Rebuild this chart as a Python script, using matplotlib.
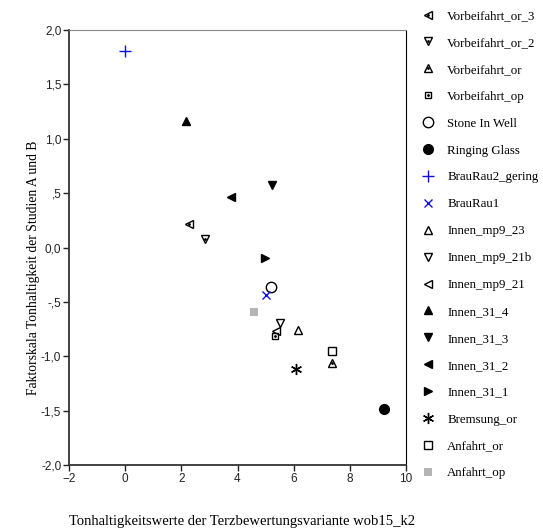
import numpy as np
import matplotlib.pyplot as plt

# Daten
namen = ["Vorbeifahrt_or_3", "Vorbeifahrt_or_2", "Vorbeifahrt_or", "Vorbeifahrt_op",
         "Stone In Well", "Ringing Glass", "BrauRau2_gering", "BrauRau1",
         "Innen_mp9_23", "Innen_mp9_21b", "Innen_mp9_21", "Innen_31_4",
         "Innen_31_3", "Innen_31_2", "Innen_31_1", "Bremsung_or",
         "Anfahrt_or", "Anfahrt_op"]
wob15_k2 = [2.29, 2.85, 7.38, 5.34, 5.19, 9.2, 0.0, 5.02, 6.14, 5.50, 5.38,
            2.17, 5.23, 3.77, 4.98, 6.09, 7.38, 4.57]
faktor = [0.22, 0.08, -1.065, -0.81, -0.36, -1.485, 1.81, -0.44, -0.76, -0.69,
          -0.77, 1.16, 0.575, 0.46, -0.10, -1.12, -0.95, -0.59]
xticks = [-2, 0, 2, 4, 6, 8, 10]
yticks = [2.0, 1.5, 1.0, 0.5, 0.0, -0.5, -1.0, -1.5, -2.0]
ytick_labels = ["2,0", "1,5", "1,0", ",5", "0,0", "-,5", "-1,0", "-1,5", "-2,0"]

# Stil je Punkt: (marker, groesse, gefuellt, farbe, punkt_innen)
stile = [
    ("<", 6, False, "black", True),
    ("v", 6, False, "black", True),
    ("^", 6, False, "black", True),
    ("s", 5, False, "black", True),
    ("o", 7.5, False, "black", False),
    ("o", 7, True, "black", False),
    ("+", 8, False, "#1010e0", False),
    ("x", 6, False, "#1010e0", False),
    ("^", 6, False, "black", False),
    ("v", 6, False, "black", False),
    ("<", 6, False, "black", False),
    ("^", 6, True, "black", False),
    ("v", 6, True, "black", False),
    ("<", 6, True, "black", False),
    (">", 6, True, "black", False),
    ((6, 2, 0), 8, False, "black", False),
    ("s", 6, False, "black", False),
    ("s", 6, True, "#b4b4b4", False),
]

fig = plt.figure(figsize=(5.43, 5.32), dpi=100)
ax = fig.add_axes([69/543, 1-465/532, 337/543, 435/532])

handles = []
for xi, yi, (m, ms, filled, col, dot) in zip(wob15_k2, faktor, stile):
    linien = m in ("+", "x") or isinstance(m, tuple)
    fc = col if (filled or linien) else "none"
    mew = 0 if (filled and col != "black") else 1.0
    h, = ax.plot([xi], [yi], linestyle="none", marker=m, markersize=ms,
                 markerfacecolor=fc, markeredgecolor=col, markeredgewidth=mew,
                 clip_on=False)
    if dot:
        d, = ax.plot([xi], [yi], linestyle="none", marker=".", markersize=2,
                     color="black", clip_on=False)
        handles.append((h, d))
    else:
        handles.append(h)

ax.set_xlim(-2, 10)
ax.set_ylim(-2, 2)
ax.set_xticks(xticks)
ax.set_yticks(yticks)
ax.set_yticklabels(ytick_labels)
ax.tick_params(direction="out", length=4, width=1, labelsize=8.5, pad=1.5,
               colors="#222222")
for lab in ax.get_xticklabels() + ax.get_yticklabels():
    lab.set_family("Liberation Sans")
for s in ["left", "bottom"]:
    ax.spines[s].set_linewidth(1.3)
    ax.spines[s].set_color("#333333")
ax.spines["top"].set_color("#888888")
ax.spines["top"].set_linewidth(0.8)
ax.spines["right"].set_color("black")
ax.spines["right"].set_linewidth(0.8)

fig.text(34/543, 1-268/532, "Faktorskala Tonhaltigkeit der Studien A und B",
         rotation=90, ha="center", va="center", family="Liberation Serif", fontsize=9.8)
fig.text(242/543, 1-521/532, "Tonhaltigkeitswerte der Terzbewertungsvariante wob15_k2",
         ha="center", va="center", family="Liberation Serif", fontsize=10.5)

leg = ax.legend(handles, namen, loc="upper left", bbox_to_anchor=(1.046, 1+20/435),
                frameon=False, prop={"family": "Liberation Serif", "size": 9.25},
                handlelength=1.0, handletextpad=1.0, labelspacing=1.16,
                borderaxespad=0, borderpad=0)

plt.savefig("out.png", dpi=100)
